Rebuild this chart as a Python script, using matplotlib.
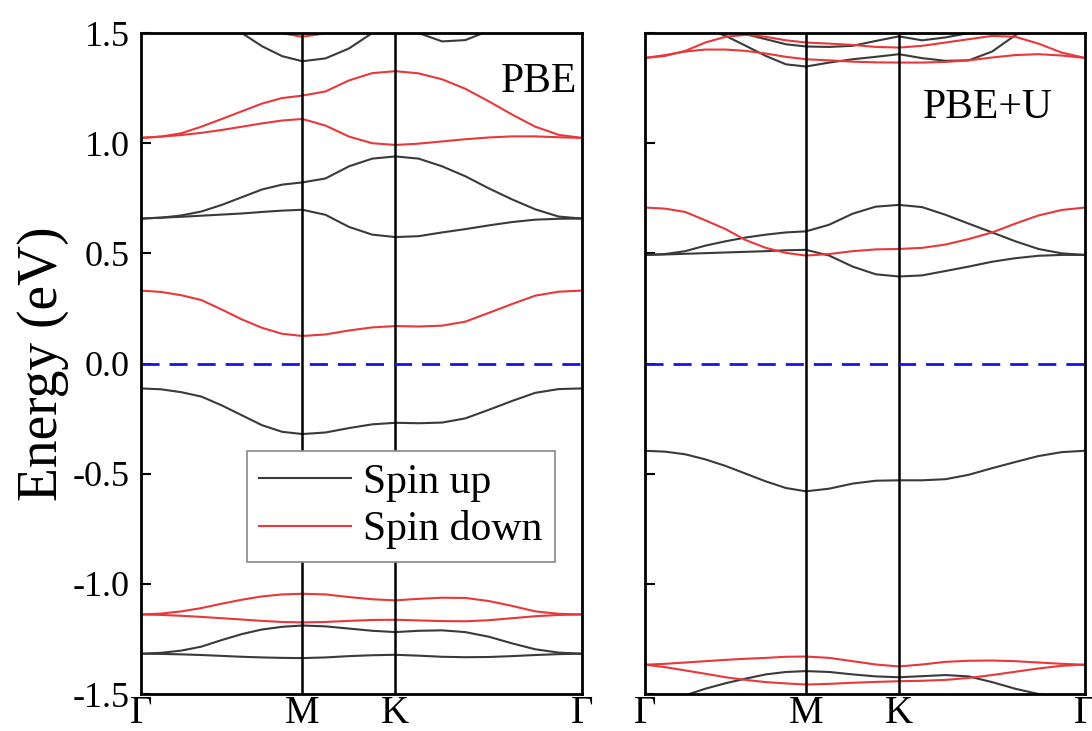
import numpy as np
import matplotlib
matplotlib.use('Agg')
import matplotlib.pyplot as plt

plt.rcParams['font.family'] = ['Liberation Serif', 'DejaVu Serif']
plt.rcParams['axes.unicode_minus'] = False

# k-path distances (Γ - M - K - Γ)
k_path = [0.000, 0.072, 0.144, 0.216, 0.289, 0.361, 0.433, 0.505, 0.577,
          0.660, 0.744, 0.827, 0.910,
          0.993, 1.077, 1.160, 1.244, 1.327, 1.410, 1.494, 1.577]
k_ticks = [0.000, 0.577, 0.910, 1.577]
k_labels = ['Γ', 'M', 'K', 'Γ']

# ---- PBE, spin up ----
pbe_up_1 = [-1.317, -1.318, -1.320, -1.323, -1.327, -1.331, -1.334, -1.336, -1.337,
            -1.334, -1.328, -1.324, -1.322,
            -1.326, -1.331, -1.333, -1.332, -1.328, -1.323, -1.319, -1.317]
pbe_up_2 = [-1.317, -1.313, -1.303, -1.285, -1.255, -1.228, -1.207, -1.195, -1.189,
            -1.193, -1.203, -1.213, -1.219,
            -1.213, -1.211, -1.219, -1.240, -1.270, -1.297, -1.312, -1.317]
pbe_up_3 = [-0.113, -0.117, -0.130, -0.150, -0.190, -0.235, -0.280, -0.310, -0.320,
            -0.313, -0.293, -0.276, -0.269,
            -0.271, -0.268, -0.249, -0.210, -0.170, -0.133, -0.116, -0.113]
pbe_up_4 = [0.658, 0.662, 0.666, 0.671, 0.676, 0.681, 0.688, 0.694, 0.698,
            0.675, 0.620, 0.585, 0.574,
            0.578, 0.595, 0.610, 0.627, 0.642, 0.653, 0.657, 0.658]
pbe_up_5 = [0.658, 0.662, 0.672, 0.690, 0.720, 0.755, 0.790, 0.812, 0.822,
            0.840, 0.895, 0.930, 0.940,
            0.930, 0.895, 0.850, 0.795, 0.745, 0.700, 0.667, 0.658]
pbe_up_6 = [1.75, 1.72, 1.66, 1.60, 1.55, 1.50, 1.44, 1.395, 1.372,
            1.385, 1.430, 1.500, 1.560,
            1.500, 1.462, 1.468, 1.510, 1.560, 1.600, 1.630, 1.640]

# ---- PBE, spin down ----
pbe_dn_1 = [-1.139, -1.141, -1.145, -1.150, -1.156, -1.162, -1.168, -1.173, -1.175,
            -1.173, -1.168, -1.164, -1.163,
            -1.166, -1.169, -1.170, -1.165, -1.156, -1.147, -1.141, -1.139]
pbe_dn_2 = [-1.139, -1.135, -1.125, -1.110, -1.090, -1.072, -1.057, -1.048, -1.045,
            -1.048, -1.060, -1.070, -1.075,
            -1.068, -1.063, -1.064, -1.078, -1.100, -1.125, -1.136, -1.139]
pbe_dn_3 = [0.331, 0.325, 0.310, 0.288, 0.245, 0.200, 0.162, 0.135, 0.125,
            0.132, 0.150, 0.164, 0.170,
            0.168, 0.172, 0.190, 0.230, 0.270, 0.308, 0.326, 0.331]
pbe_dn_4 = [1.024, 1.030, 1.037, 1.047, 1.060, 1.075, 1.090, 1.103, 1.110,
            1.080, 1.030, 1.000, 0.992,
            0.998, 1.008, 1.018, 1.026, 1.031, 1.031, 1.027, 1.024]
pbe_dn_5 = [1.024, 1.030, 1.045, 1.075, 1.110, 1.145, 1.180, 1.205, 1.216,
            1.235, 1.285, 1.318, 1.327,
            1.317, 1.290, 1.247, 1.190, 1.130, 1.075, 1.038, 1.024]
pbe_dn_6 = [1.70, 1.68, 1.64, 1.60, 1.57, 1.54, 1.53, 1.499, 1.483,
            1.499, 1.530, 1.560, 1.580,
            1.600, 1.610, 1.620, 1.630, 1.640, 1.650, 1.660, 1.670]

# ---- PBE+U, spin up ----
pbeu_up_1 = [-1.530, -1.520, -1.506, -1.476, -1.451, -1.430, -1.411, -1.400, -1.396,
             -1.400, -1.411, -1.420, -1.424,
             -1.419, -1.414, -1.420, -1.446, -1.476, -1.500, -1.514, -1.520]
pbeu_up_2 = [-0.396, -0.400, -0.412, -0.435, -0.465, -0.500, -0.535, -0.565, -0.580,
             -0.568, -0.545, -0.532, -0.530,
             -0.530, -0.525, -0.505, -0.475, -0.447, -0.420, -0.402, -0.396]
pbeu_up_3 = [0.493, 0.495, 0.498, 0.501, 0.504, 0.507, 0.510, 0.514, 0.516,
             0.490, 0.440, 0.405, 0.395,
             0.400, 0.420, 0.440, 0.462, 0.478, 0.489, 0.493, 0.493]
pbeu_up_4 = [0.493, 0.497, 0.510, 0.535, 0.555, 0.572, 0.585, 0.595, 0.600,
             0.630, 0.680, 0.712, 0.720,
             0.710, 0.675, 0.635, 0.595, 0.555, 0.520, 0.500, 0.493]
pbeu_up_5 = [1.60, 1.58, 1.55, 1.52, 1.487, 1.442, 1.396, 1.358, 1.348,
             1.366, 1.381, 1.392, 1.404,
             1.386, 1.374, 1.376, 1.416, 1.490, 1.560, 1.600, 1.620]
pbeu_up_6 = [1.70, 1.65, 1.60, 1.56, 1.53, 1.495, 1.472, 1.449, 1.439,
             1.437, 1.442, 1.464, 1.485,
             1.467, 1.480, 1.500, 1.530, 1.560, 1.600, 1.640, 1.680]

# ---- PBE+U, spin down ----
pbeu_dn_1 = [-1.367, -1.378, -1.393, -1.408, -1.424, -1.436, -1.446, -1.452, -1.457,
             -1.454, -1.449, -1.445, -1.442,
             -1.440, -1.436, -1.427, -1.414, -1.399, -1.384, -1.372, -1.367]
pbeu_dn_2 = [-1.367, -1.363, -1.357, -1.351, -1.345, -1.340, -1.336, -1.331, -1.330,
             -1.336, -1.351, -1.366, -1.375,
             -1.366, -1.354, -1.349, -1.348, -1.351, -1.357, -1.363, -1.367]
pbeu_dn_3 = [0.708, 0.703, 0.688, 0.650, 0.610, 0.560, 0.525, 0.502, 0.490,
             0.497, 0.510, 0.518, 0.520,
             0.525, 0.540, 0.565, 0.595, 0.635, 0.672, 0.697, 0.708]
pbeu_dn_4 = [1.387, 1.400, 1.416, 1.425, 1.425, 1.419, 1.407, 1.392, 1.381,
             1.376, 1.370, 1.367, 1.366,
             1.366, 1.369, 1.376, 1.389, 1.400, 1.404, 1.398, 1.387]
pbeu_dn_5 = [1.387, 1.396, 1.419, 1.457, 1.483, 1.492, 1.483, 1.467, 1.457,
             1.452, 1.446, 1.437, 1.434,
             1.442, 1.457, 1.472, 1.487, 1.483, 1.452, 1.411, 1.387]

panels = [
    ('PBE', [pbe_up_1, pbe_up_2, pbe_up_3, pbe_up_4, pbe_up_5, pbe_up_6],
     [pbe_dn_1, pbe_dn_2, pbe_dn_3, pbe_dn_4, pbe_dn_5, pbe_dn_6]),
    ('PBE+U', [pbeu_up_1, pbeu_up_2, pbeu_up_3, pbeu_up_4, pbeu_up_5, pbeu_up_6],
     [pbeu_dn_1, pbeu_dn_2, pbeu_dn_3, pbeu_dn_4, pbeu_dn_5]),
]

up_color = '#3a3a3a'
dn_color = '#e8383b'

fig = plt.figure(figsize=(10.92, 7.31), dpi=100)
ax1 = fig.add_axes([0.1291, 0.0506, 0.4038, 0.9042])
ax2 = fig.add_axes([0.5907, 0.0506, 0.4029, 0.9042])

for ax, (name, ups, dns) in zip([ax1, ax2], panels):
    for i, b in enumerate(ups):
        ax.plot(k_path, b, color=up_color, lw=1.5, label='Spin up' if i == 0 else None)
    for i, b in enumerate(dns):
        ax.plot(k_path, b, color=dn_color, lw=1.5, label='Spin down' if i == 0 else None)
    for kv in k_ticks[1:-1]:
        ax.axvline(kv, color='black', lw=1.8)
    ax.axhline(0, color='#1414e6', lw=2.0, dashes=(6.5, 3.6))
    ax.set_xlim(k_ticks[0], k_ticks[-1])
    ax.set_ylim(-1.5, 1.5)
    ax.set_xticks(k_ticks)
    ax.set_xticklabels(k_labels, fontsize=28)
    ax.set_yticks([-1.5, -1.0, -0.5, 0.0, 0.5, 1.0, 1.5])
    ax.tick_params(axis='y', direction='in', length=7, width=1.5, labelsize=26, pad=8)
    ax.tick_params(axis='x', length=0, pad=1)
    for s in ax.spines.values():
        s.set_linewidth(2.0)

ax2.tick_params(axis='y', labelleft=False)

ax1.set_ylabel('Energy (eV)', fontsize=40, labelpad=3)
ax1.text(0.989, 0.911, 'PBE', transform=ax1.transAxes, ha='right', va='baseline', fontsize=30)
ax2.text(0.631, 0.871, 'PBE+U', transform=ax2.transAxes, ha='left', va='baseline', fontsize=30)

leg = ax1.legend(loc='upper left', bbox_to_anchor=(0.240, 0.368), borderaxespad=0,
                 fontsize=30, frameon=True, fancybox=False, framealpha=1,
                 handlelength=2.2, handletextpad=0.3, labelspacing=0.2, borderpad=0.3)
leg.get_frame().set_edgecolor('#888888')
leg.get_frame().set_linewidth(1.2)

fig.savefig('out.png', dpi=100)
